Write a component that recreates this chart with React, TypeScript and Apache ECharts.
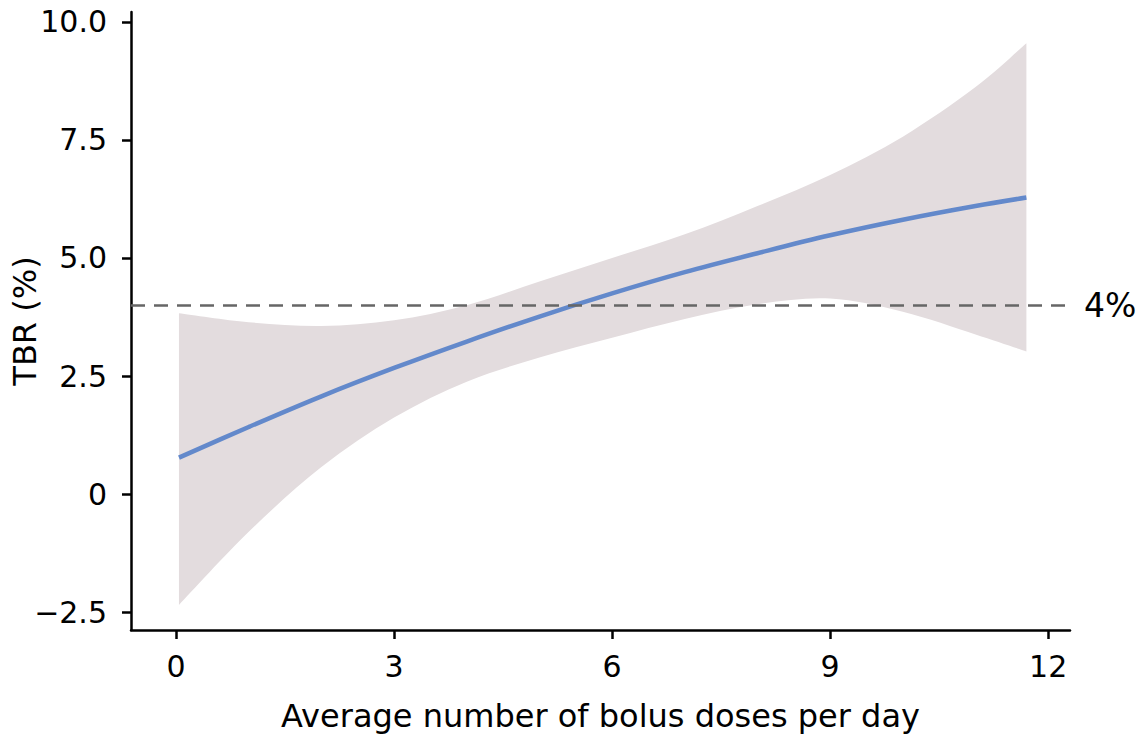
import React, { useEffect, useRef } from "react";
import * as echarts from "echarts";

// Bolus doses per day (x) where the fit is evaluated
const doses = [0.04, 1, 2, 3, 4, 5, 6, 7, 8, 9, 10, 11, 11.7];
// Fitted TBR (%) curve
const tbrFit = [0.77, 1.42, 2.07, 2.67, 3.23, 3.76, 4.25, 4.7, 5.1, 5.48, 5.81, 6.1, 6.28];
// Confidence band bounds
const tbrLower = [-2.35, -0.8, 0.57, 1.62, 2.38, 2.89, 3.31, 3.71, 4.02, 4.14, 3.86, 3.38, 3.02];
const tbrUpper = [3.83, 3.64, 3.56, 3.68, 4.0, 4.5, 5.0, 5.5, 6.1, 6.76, 7.57, 8.62, 9.55];

const xTicks = [0, 3, 6, 9, 12];
const yTicks = [-2.5, 0, 2.5, 5, 7.5, 10];
const threshold = 4;

const FONT = "DejaVu Sans";

type Pt = number[];

// Catmull-Rom spline through pixel points, emitted as cubic bezier segments
function splineSegments(pts: Pt[]): string {
  let d = "";
  for (let i = 0; i < pts.length - 1; i++) {
    const p0 = pts[Math.max(0, i - 1)];
    const p1 = pts[i];
    const p2 = pts[i + 1];
    const p3 = pts[Math.min(pts.length - 1, i + 2)];
    const c1x = p1[0] + (p2[0] - p0[0]) / 6;
    const c1y = p1[1] + (p2[1] - p0[1]) / 6;
    const c2x = p2[0] - (p3[0] - p1[0]) / 6;
    const c2y = p2[1] - (p3[1] - p1[1]) / 6;
    d += ` C${c1x},${c1y} ${c2x},${c2y} ${p2[0]},${p2[1]}`;
  }
  return d;
}

export default function App() {
  const ref = useRef<HTMLDivElement>(null);

  useEffect(() => {
    if (!ref.current) return;
    const chart = echarts.init(ref.current, undefined, { renderer: "svg" });

    const bandData = doses.map((x, i) => [x, tbrLower[i], tbrUpper[i]]);
    const fitData = doses.map((x, i) => [x, tbrFit[i]]);

    const fmtY = (v: number) => {
      if (v === 0) return "0";
      const s = Math.abs(v).toFixed(1);
      return v < 0 ? "\u2212" + s : s;
    };

    chart.setOption({
      animation: false,
      backgroundColor: "#ffffff",
      textStyle: { fontFamily: FONT },
      grid: { left: 131, right: 70, top: 12, bottom: 105, outerBoundsMode: "none", containLabel: false },
      xAxis: {
        type: "value",
        min: -0.62,
        max: 12.3,
        name: "Average number of bolus doses per day",
        nameLocation: "middle",
        nameGap: 70,
        nameMoveOverlap: false,
        nameTextStyle: { fontFamily: FONT, fontSize: 32, color: "#000" },
        splitLine: { show: false },
        axisLine: { show: true, onZero: false, lineStyle: { color: "#000", width: 2.5 } },
        axisTick: {
          show: true,
          length: 9,
          lineStyle: { color: "#000", width: 2.5 },
          customValues: xTicks,
        },
        axisLabel: {
          fontFamily: FONT,
          fontSize: 30,
          color: "#000",
          margin: 21,
          customValues: xTicks,
          formatter: (v: number) => String(v),
        },
      },
      yAxis: {
        type: "value",
        min: -2.88,
        max: 10.21,
        name: "TBR (%)",
        nameLocation: "middle",
        nameGap: 90,
        nameMoveOverlap: false,
        nameTextStyle: { fontFamily: FONT, fontSize: 32, color: "#000" },
        splitLine: { show: false },
        axisLine: { show: true, onZero: false, lineStyle: { color: "#000", width: 2.5 } },
        axisTick: {
          show: true,
          length: 9,
          lineStyle: { color: "#000", width: 2.5 },
          customValues: yTicks,
        },
        axisLabel: {
          fontFamily: FONT,
          fontSize: 30,
          color: "#000",
          margin: 24,
          customValues: yTicks,
          formatter: fmtY,
        },
      },
      series: [
        {
          type: "custom",
          data: bandData,
          encode: { x: 0, y: [1, 2] },
          silent: true,
          z: 1,
          renderItem: (params: any, api: any) => {
            if (params.dataIndex !== 0) return { type: "group", children: [] };
            const upper = bandData.map((r) => api.coord([r[0], r[2]]));
            const lower = bandData.map((r) => api.coord([r[0], r[1]])).reverse();
            let d = `M${upper[0][0]},${upper[0][1]}`;
            d += splineSegments(upper);
            d += ` L${lower[0][0]},${lower[0][1]}`;
            d += splineSegments(lower);
            d += " Z";
            return {
              type: "path",
              shape: { pathData: d },
              style: { fill: "#e3dcde", stroke: "none" },
            };
          },
        },
        {
          type: "line",
          data: fitData,
          smooth: 0.35,
          symbol: "none",
          lineStyle: { color: "#6389cb", width: 4.5 },
          z: 3,
          markLine: {
            silent: true,
            symbol: "none",
            lineStyle: { color: "#666666", type: [14, 9], width: 2.5 },
            label: {
              show: true,
              position: "end",
              formatter: "4%",
              fontFamily: FONT,
              fontSize: 33,
              color: "#000",
              distance: 14,
            },
            data: [{ yAxis: threshold }],
          },
        },
      ],
    });

    return () => chart.dispose();
  }, []);

  return (
    <div
      ref={ref}
      style={{ position: "fixed", left: 0, top: 0, width: 1140, height: 735, background: "#fff" }}
    />
  );
}
